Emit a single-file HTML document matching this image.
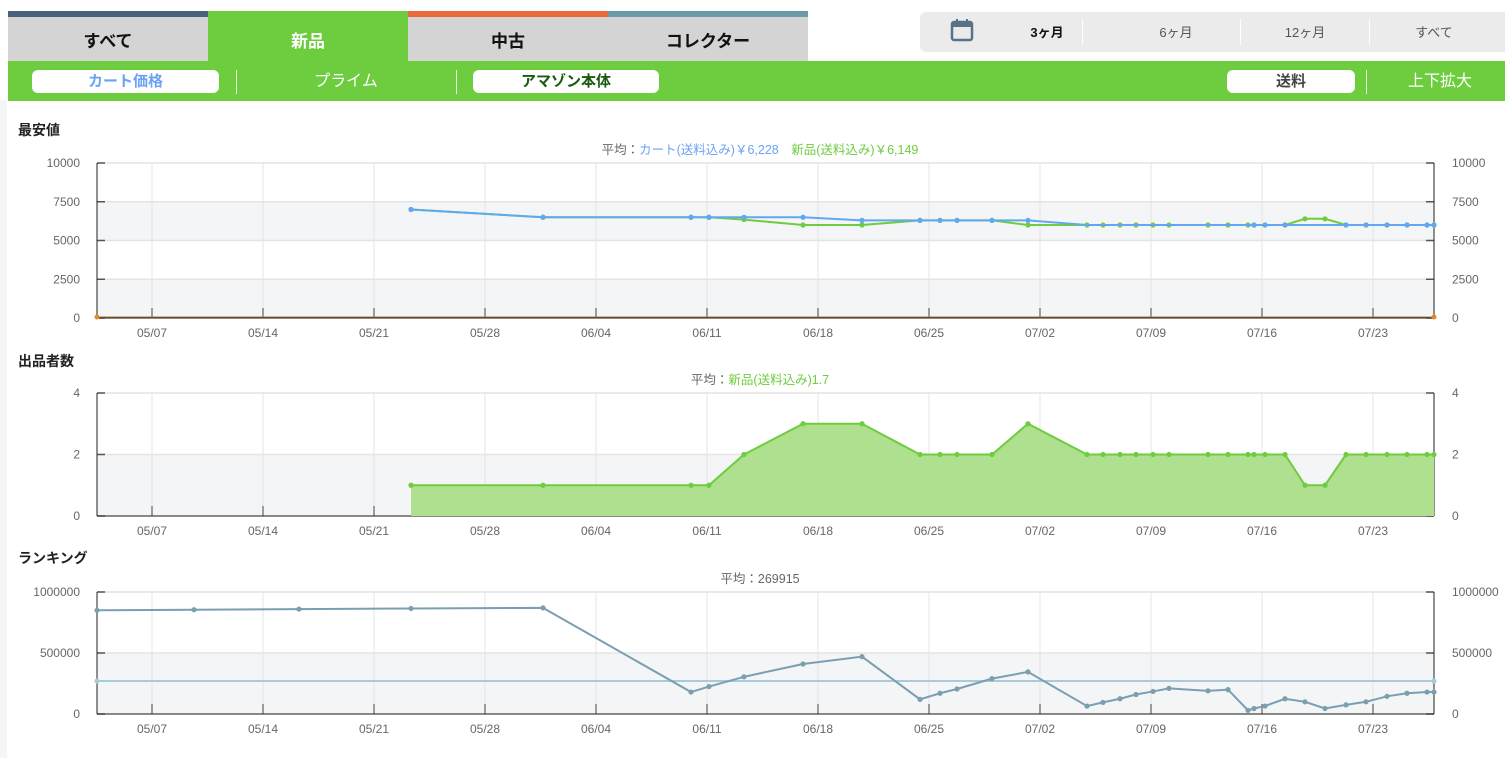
<!DOCTYPE html><html><head><meta charset="utf-8"><style>
body{margin:0;width:1505px;height:758px;overflow:hidden;background:#fff;font-family:"Liberation Sans","Noto Sans CJK JP",sans-serif;position:relative}
.a{position:absolute}
.tab{position:absolute;top:17px;height:44px;width:200px;background:#d3d4d3;font-weight:bold;font-size:17px;text-align:center;line-height:50px;color:#111}
.pill{position:absolute;top:70px;height:23px;background:#fff;border-radius:6px;text-align:center;line-height:23px;font-size:15px;font-weight:bold}
.sep{position:absolute;top:70px;width:1px;height:24px;background:#e8f5e0}
.per{position:absolute;top:22px;font-size:13px;color:#555;text-align:center;width:120px}
.vs{position:absolute;top:19px;width:1px;height:26px;background:#fff}
.ttl{position:absolute;left:18px;font-size:14px;font-weight:bold;color:#222}
</style></head><body>
<div class="a" style="left:0;top:100px;width:7px;height:658px;background:#f4f5f7"></div>
<div class="a" style="left:8px;top:11px;width:200px;height:6px;background:#48627c"></div>
<div class="a" style="left:208px;top:11px;width:200px;height:6px;background:#6ecc3f"></div>
<div class="a" style="left:408px;top:11px;width:200px;height:6px;background:#ea6a3a"></div>
<div class="a" style="left:608px;top:11px;width:200px;height:6px;background:#6a9aa8"></div>
<div class="tab" style="left:8px">すべて</div>
<div class="tab" style="left:208px;background:#6ecc3f;color:#fff">新品</div>
<div class="tab" style="left:408px">中古</div>
<div class="tab" style="left:608px">コレクター</div>
<div class="a" style="left:920px;top:12px;width:585px;height:40px;background:#ebebeb;border-radius:6px 0 0 6px"></div>
<svg class="a" style="left:950px;top:17px" width="26" height="26"><rect x="2" y="5" width="20" height="18" rx="2" fill="none" stroke="#5a7288" stroke-width="2.5"/><rect x="2" y="5" width="20" height="5" fill="#5a7288"/><rect x="6" y="2" width="2" height="4" fill="#5a7288"/><rect x="16" y="2" width="2" height="4" fill="#5a7288"/></svg>
<div class="per" style="left:987px;color:#111;font-weight:bold">3ヶ月</div>
<div class="vs" style="left:1082px"></div>
<div class="per" style="left:1116px">6ヶ月</div>
<div class="vs" style="left:1240px"></div>
<div class="per" style="left:1245px">12ヶ月</div>
<div class="vs" style="left:1369px"></div>
<div class="per" style="left:1374px">すべて</div>
<div class="a" style="left:8px;top:61px;width:1497px;height:40px;background:#6ecc3f"></div>
<div class="pill" style="left:32px;width:187px;color:#6aa2f5">カート価格</div>
<div class="sep" style="left:236px"></div>
<div class="a" style="left:246px;top:70px;width:200px;text-align:center;line-height:23px;color:#fff;font-size:16px">プライム</div>
<div class="sep" style="left:456px"></div>
<div class="pill" style="left:473px;width:186px;color:#1d5a12">アマゾン本体</div>
<div class="pill" style="left:1227px;width:128px;color:#444">送料</div>
<div class="sep" style="left:1366px"></div>
<div class="a" style="left:1380px;top:70px;width:120px;text-align:center;line-height:23px;color:#fff;font-size:16px">上下拡大</div>
<div class="ttl" style="top:120px">最安値</div>
<div class="ttl" style="top:351px">出品者数</div>
<div class="ttl" style="top:548px">ランキング</div>
<svg id="s" class="a" style="left:0;top:0" width="1505" height="758" font-family="Liberation Sans, Noto Sans CJK JP, sans-serif"></svg>
<script>
const s=document.getElementById('s');let h='';
const X0=97,X1=1434;
const dates=['05/07','05/14','05/21','05/28','06/04','06/11','06/18','06/25','07/02','07/09','07/16','07/23'];
function chart(top,bot,max,ticks,fmt){
 const H=bot-top,n=ticks.length-1;
 for(let i=0;i<n;i++){const y1=top+H*i/n,y2=top+H*(i+1)/n;
  if(i%2==1)h+=`<rect x="${X0}" y="${y1}" width="${X1-X0}" height="${y2-y1}" fill="#f4f5f7"/>`;}
 for(let i=0;i<=n;i++){const y=top+H*i/n;h+=`<line x1="${X0}" x2="${X1}" y1="${y}" y2="${y}" stroke="#e4e4e4" stroke-width="1.5"/>`;
  const v=fmt(ticks[n-i]);
  h+=`<text x="${X0-17}" y="${y+4}" font-size="12" fill="#666" text-anchor="end">${v}</text><text x="${X1+18}" y="${y+4}" font-size="12" fill="#666">${v}</text>`;
  h+=`<line x1="${X0}" x2="${X0+8}" y1="${y}" y2="${y}" stroke="#555" stroke-width="1.5"/><line x1="${X1-8}" x2="${X1}" y1="${y}" y2="${y}" stroke="#555" stroke-width="1.5"/>`;}
 dates.forEach((d,i)=>{const x=152+i*111;h+=`<line x1="${x}" x2="${x}" y1="${top}" y2="${bot}" stroke="#e4e4e4"/><line x1="${x}" x2="${x}" y1="${bot-10}" y2="${bot}" stroke="#444"/><text x="${x}" y="${bot+19}" font-size="12" fill="#666" text-anchor="middle">${d}</text>`});
 h+=`<line x1="${X0}" x2="${X0}" y1="${top}" y2="${bot}" stroke="#222"/><line x1="${X1}" x2="${X1}" y1="${top}" y2="${bot}" stroke="#222"/><line x1="${X0}" x2="${X1}" y1="${bot}" y2="${bot}" stroke="#222"/>`;
}
function line(pts,top,bot,max,col,dots,fill){
 const p=pts.map(([x,v])=>[x,bot-(bot-top)*v/max]);
 if(fill)h+=`<polygon points="${p[0][0]},${bot} ${p.map(a=>a.join(',')).join(' ')} ${p[p.length-1][0]},${bot}" fill="${fill}"/>`;
 h+=`<polyline points="${p.map(a=>a.join(',')).join(' ')}" fill="none" stroke="${col}" stroke-width="2"/>`;
 if(dots)p.forEach(a=>h+=`<circle cx="${a[0]}" cy="${a[1]}" r="2.6" fill="${col}"/>`);
}
chart(163,318,10000,[0,2500,5000,7500,10000],v=>v);
const xs=[411,543,691,709,744,803,862,920,940,957,992,1028,1087,1103,1120,1136,1153,1169,1208,1228,1248,1254,1265,1285,1305,1325,1346,1366,1387,1407,1427,1434];
const g1=[7000,6500,6500,6500,6350,6000,6000,6300,6300,6300,6300,6000,6000,6000,6000,6000,6000,6000,6000,6000,6000,6000,6000,6000,6400,6400,6000,6000,6000,6000,6000,6000];
const b1=[7000,6500,6500,6500,6500,6500,6300,6300,6300,6300,6300,6300,6000,6000,6000,6000,6000,6000,6000,6000,6000,6000,6000,6000,null,null,6000,6000,6000,6000,6000,6000];
line(xs.map((x,i)=>[x,g1[i]]),163,318,10000,'#6ecc3f',true);
const bp=xs.map((x,i)=>[x,b1[i]]).filter(a=>a[1]!=null);
line(bp,163,318,10000,'#62a8f0',false);
bp.forEach(([x,v])=>{if(x<1087||x>=1254)h+=`<circle cx="${x}" cy="${318-155*v/10000}" r="2.6" fill="#62a8f0"/>`});
h+=`<line x1="${X0}" x2="${X1}" y1="317" y2="317" stroke="#b07a30" stroke-width="1"/><circle cx="97" cy="317" r="2.5" fill="#e08a2a"/><circle cx="1434" cy="317" r="2.5" fill="#e08a2a"/>`;
h+=`<text x="760" y="154" font-size="12.5" text-anchor="middle" fill="#666">平均：<tspan fill="#6aa2f5">カート(送料込み)￥6,228</tspan>　<tspan fill="#6ecc3f">新品(送料込み)￥6,149</tspan></text>`;
chart(393,516,4,[0,2,4],v=>v);
const g2=[1,1,1,1,2,3,3,2,2,2,2,3,2,2,2,2,2,2,2,2,2,2,2,2,1,1,2,2,2,2,2,2];
line(xs.map((x,i)=>[x,g2[i]]),393,516,4,'#6ecc3f',true,'#aee08f');
h+=`<text x="760" y="384" font-size="12.5" text-anchor="middle" fill="#666">平均：<tspan fill="#6ecc3f">新品(送料込み)1.7</tspan></text>`;
chart(592,714,1000000,[0,500000,1000000],v=>v);
const r=[[97,850],[194,855],[299,860],[411,865],[543,870],[691,180],[709,225],[744,305],[803,410],[862,470],[920,120],[940,170],[957,205],[992,290],[1028,345],[1087,65],[1103,95],[1120,125],[1136,160],[1153,185],[1169,210],[1208,190],[1228,200],[1248,30],[1254,45],[1265,65],[1285,125],[1305,100],[1325,45],[1346,75],[1366,100],[1387,145],[1407,170],[1427,180],[1434,180]].map(a=>[a[0],a[1]*1000]);
line([[97,270000],[1434,270000]],592,714,1000000,'#a8cbdc',true);
line(r,592,714,1000000,'#7a9fb0',true);
h+=`<text x="760" y="583" font-size="12.5" text-anchor="middle" fill="#666">平均：269915</text>`;
s.innerHTML=h;
</script>
</body></html>
